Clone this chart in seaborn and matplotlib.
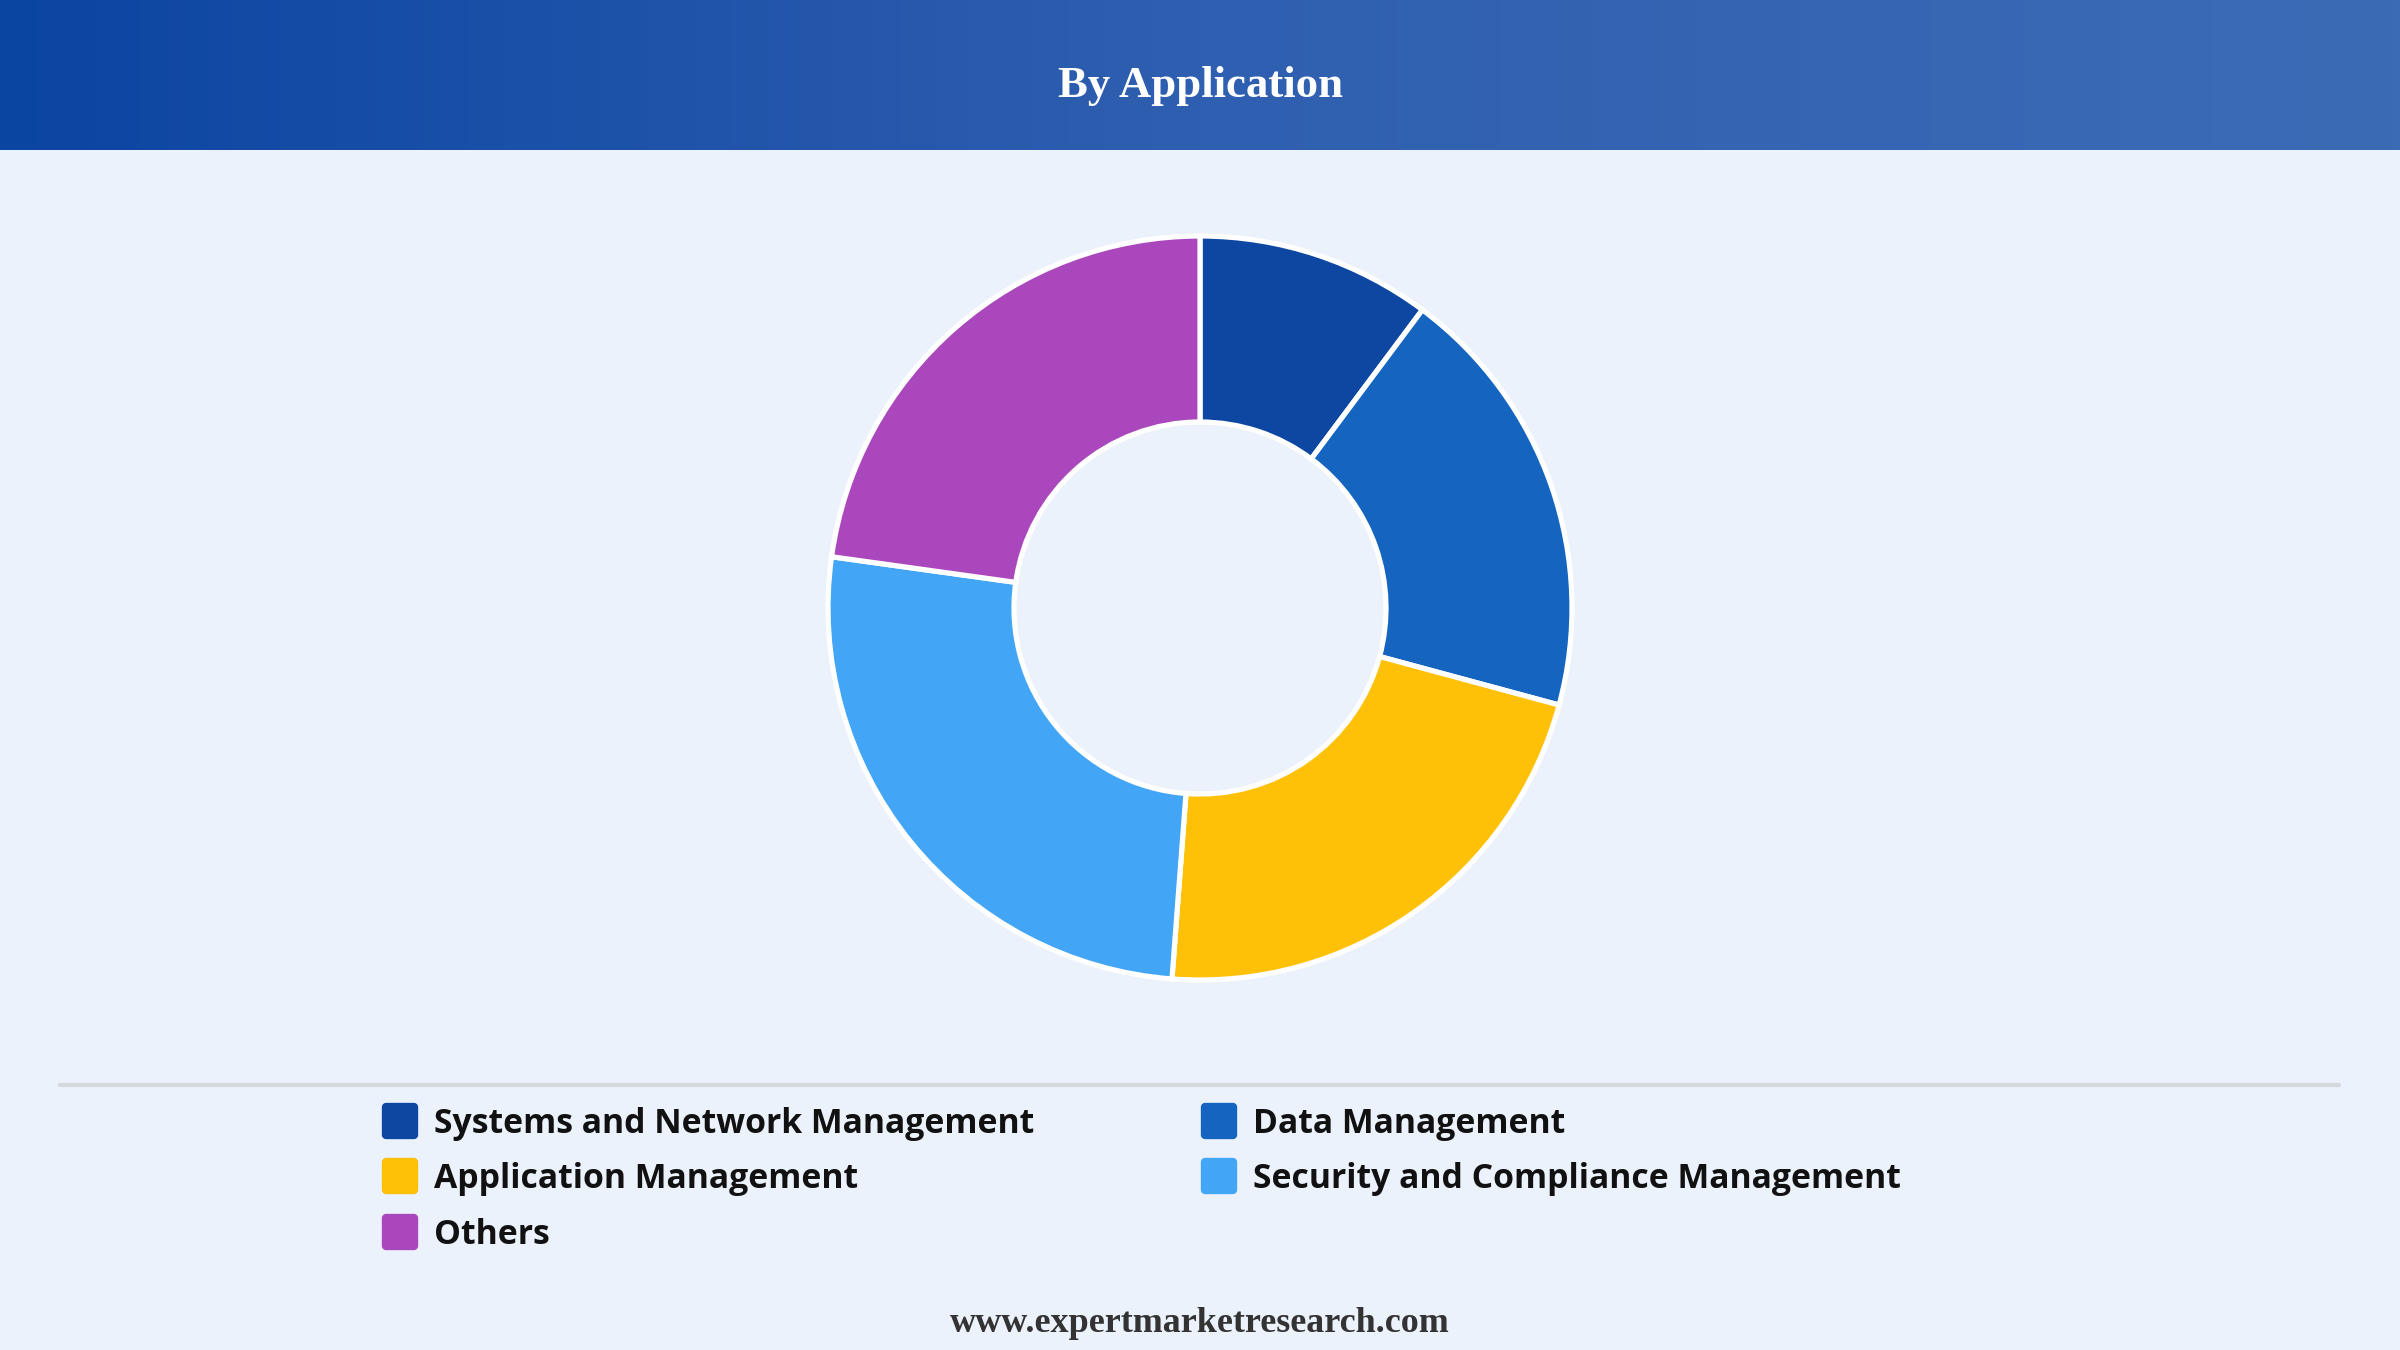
import numpy as np
import matplotlib
matplotlib.use("Agg")
import matplotlib.pyplot as plt
from matplotlib.lines import Line2D
from matplotlib.markers import MarkerStyle
from matplotlib.colors import LinearSegmentedColormap
import seaborn as sns

# data (share of market, %)
segments = ["Systems and Network Management", "Data Management",
            "Application Management", "Security and Compliance Management",
            "Others"]
shares = [10.2, 19.0, 22.0, 26.0, 22.8]
colors = ["#0D47A1", "#1565C0", "#FFC107", "#42A5F5", "#AB47BC"]
title = "By Application"
footer = "www.expertmarketresearch.com"

bg = "#EBF2FB"
sns.set_theme(style="white")
plt.rcParams["font.family"] = ["Open Sans", "DejaVu Sans"]

W, H = 2400, 1350
fig = plt.figure(figsize=(16, 9), dpi=150, facecolor=bg)

# header bar with gradient
hdr = fig.add_axes([0, 1 - 150 / H, 1, 150 / H])
grad = np.linspace(0, 1, 512).reshape(1, -1)
cmap = LinearSegmentedColormap.from_list("hdr", ["#0B45A2", "#2F5FB0", "#3C6BB6"])
hdr.imshow(grad, aspect="auto", cmap=cmap, extent=[0, 1, 0, 1])
hdr.set_axis_off()
hdr.text(0.5, 0.43, title, ha="center", va="center", color="white",
         fontsize=21.5, fontweight="bold", family=["Liberation Serif", "DejaVu Serif"])

# donut
cx, cy, r = 1200, 608, 372
half = r * 1.02
ax = fig.add_axes([(cx - half) / W, 1 - (cy + half) / H, 2 * half / W, 2 * half / H])
ax.set_facecolor(bg)
wedges, _ = ax.pie(shares, colors=colors, startangle=90, counterclock=False,
                   wedgeprops=dict(width=0.5, edgecolor="white", linewidth=2.5))
ax.set_xlim(-1.02, 1.02)
ax.set_ylim(-1.02, 1.02)
ax.set_aspect("equal")

# separator line
fig.add_artist(Line2D([60 / W, 2339 / W], [1 - 1085 / H, 1 - 1085 / H],
                      color="#D5D9DE", linewidth=2))

# legend, row-major order
order = [0, 2, 4, 1, 3]
sq = MarkerStyle("s", joinstyle="round")
handles = [Line2D([], [], marker=sq, linestyle="none", markersize=13,
                  markeredgewidth=4, markerfacecolor=colors[i],
                  markeredgecolor=colors[i])
           for i in order]
labels = [segments[i] for i in order]
fig.legend(handles, labels, ncol=2, loc="upper left",
           bbox_to_anchor=(383 / W, 1 - 1107 / H), frameon=False,
           prop=dict(family="Open Sans", weight="bold", size=16.2),
           handletextpad=0.5, columnspacing=4.98, labelspacing=0.63,
           handlelength=1.0, borderpad=0, borderaxespad=0, labelcolor="#111111")

fig.text(0.5, 1 - 1324 / H, footer, ha="center", va="center", color="#333333",
         fontsize=17.3, fontweight="bold", family=["Liberation Serif", "DejaVu Serif"])

fig.savefig("out.png", dpi=150, facecolor=bg)
